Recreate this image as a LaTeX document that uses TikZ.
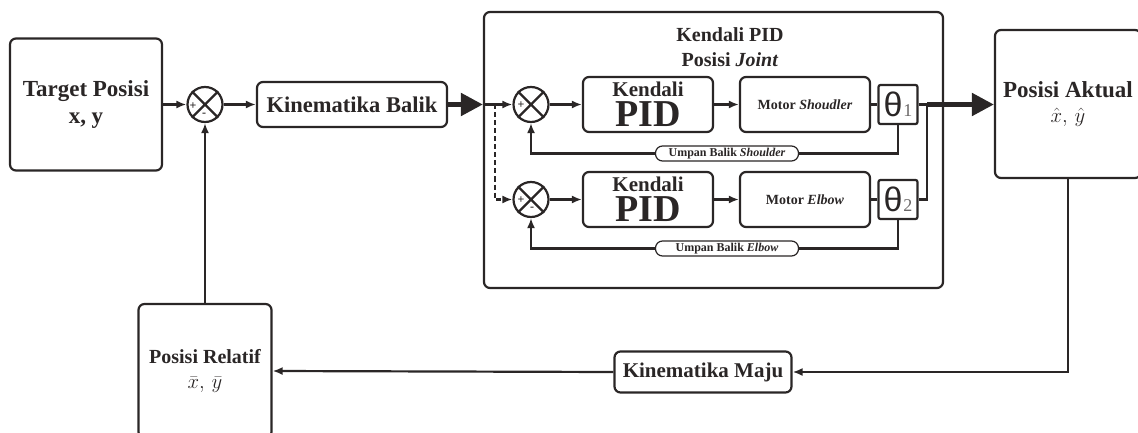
\documentclass[tikz,border=0pt]{standalone}
\usepackage{fontspec}
\setmainfont{Liberation Serif}
\newfontfamily\thetafont{Liberation Sans}
\usetikzlibrary{arrows.meta}
\definecolor{ink}{RGB}{42,38,38}

\begin{document}
\begin{tikzpicture}[x=1pt, y=-1pt, color=ink, line width=2.2pt, >={Latex[length=10pt,width=8pt]},
    myblock/.style={draw, rounded corners=6pt, align=center, inner sep=0pt, font=\bfseries},
    mysum/.style={draw, circle, minimum size=35pt, inner sep=0pt},
    mysign/.style={inner sep=0pt, font=\bfseries\fontsize{12}{12}\selectfont},
    mypill/.style={draw, fill=white, rounded corners=7pt, line width=1.2pt, minimum width=143pt, minimum height=15pt,
      inner sep=0pt, font=\bfseries\fontsize{12}{12}\selectfont},
    mytheta/.style={draw, rounded corners=2pt, minimum size=39pt, inner sep=0pt},
    mythick/.style={line width=5pt, -{Triangle[length=22pt,width=22pt]}},
    mydash/.style={dash pattern=on 5pt off 3pt}]
    \path[use as bounding box, clip] (0,0) rectangle (1138,433);
    % main loop
    \node[myblock, minimum width=152pt, minimum height=132pt, font=\bfseries\fontsize{23}{27}\selectfont] (target) at (86,104.5) {Target Posisi\\x, y};
    \node[mysum] (sum) at (205,104.5) {};
    \draw (sum.north west) -- (sum.south east) (sum.north east) -- (sum.south west);
    \node[mysign] (sumplus) at (193,106) {+};
    \node[mysign] (summinus) at (204,115) {-};
    \node[myblock, minimum width=190pt, minimum height=45pt, font=\bfseries\fontsize{22.5}{27}\selectfont] (balik) at (352,104.5) {Kinematika Balik};
    \node[myblock, minimum width=459pt, minimum height=276pt] (pidbox) at (713.5,150) {};
    \node[align=center, font=\bfseries\fontsize{20}{25}\selectfont] (pidtitle) at (730,47) {Kendali PID\\Posisi \textit{Joint}};
    \node[myblock, minimum width=146pt, minimum height=148pt, font=\bfseries\fontsize{23}{25}\selectfont] (aktual) at (1068,104) {Posisi Aktual\\{\fontsize{20}{20}\selectfont$\hat{x},\,\hat{y}$}};
    \node[myblock, minimum width=177pt, minimum height=41pt, font=\bfseries\fontsize{21}{25}\selectfont] (maju) at (703,372) {Kinematika Maju};
    \node[myblock, minimum width=133pt, minimum height=134pt, font=\bfseries\fontsize{20}{25}\selectfont] (relatif) at (205,371) {Posisi Relatif\\{\fontsize{21}{21}\selectfont$\bar{x},\,\bar{y}$}};
    % joint loops
    \foreach \i/\yy/\motor/\fb in {1/104.5/Shoudler/Shoulder, 2/199.5/Elbow/Elbow}{
      \node[mysum] (s\i) at (531,\yy) {};
      \draw (s\i.north west) -- (s\i.south east) (s\i.north east) -- (s\i.south west);
      \node[mysign] (plus\i) at (521,\yy+1) {+};
      \node[myblock, minimum width=130pt, minimum height=55pt, font=\bfseries\fontsize{21}{30}\selectfont] (pid\i) at (648,\yy) {Kendali\\{\fontsize{38}{30}\selectfont PID}};
      \node[myblock, minimum width=130pt, minimum height=55pt, font=\bfseries\fontsize{14}{14}\selectfont] (motor\i) at (805,\yy) {Motor \textit{\motor}};
      \node[mytheta] (th\i) at (898,\yy) {\thetafont\fontsize{34}{34}\selectfont θ\kern1pt{\rmfamily\fontsize{18}{18}\selectfont\color{ink!70}\i}};
      \node[mypill] (fb\i) at (727,\yy+49) {Umpan Balik \textit{\fb}};
      \draw[->] (s\i) -- (pid\i);
      \draw[->] (pid\i) -- (motor\i);
      \draw (motor\i) -- (th\i);
      \draw (th\i.south) |- (fb\i.east);
      \draw[->] (fb\i.west) -| (s\i.south);
    }
    \node[mysign] (minus2) at (532,209) {-};
    \coordinate (split) at (495,104.5);
    \coordinate (join) at (927,104.5);
    % connectors
    \draw[->] (target) -- (sum);
    \draw[->] (sum) -- (balik);
    \draw[mythick] (balik.east) -- (balik.east -| pidbox.west);
    \draw[->] (balik.east -| pidbox.west) -- (s1.west);
    \draw[mydash, ->] (split) |- (s2.west);
    \draw (th1.east) -- (join) |- (th2.east);
    \draw[mythick] (join) -- (aktual.west |- join);
    \draw[->] (aktual.south) |- (maju.east);
    \draw[->] (maju.west) -- (relatif.east);
    \draw[->] (relatif) -- (sum);
\end{tikzpicture}
\end{document}
